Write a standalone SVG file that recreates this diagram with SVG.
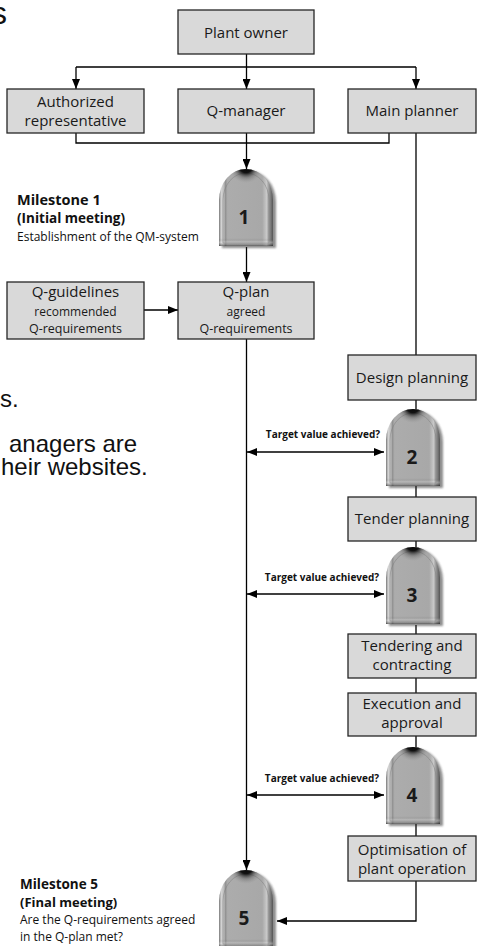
<svg xmlns="http://www.w3.org/2000/svg" xmlns:xlink="http://www.w3.org/1999/xlink" width="478" height="946" viewBox="0 0 478 946">
<style>
.box{fill:#d9d9d9;stroke:#262626;stroke-width:1.3}
.bt{font-family:"Open Sans","Liberation Sans",sans-serif;font-size:15px;fill:#1a1a1a;text-anchor:middle}
.bs{font-family:"Open Sans","Liberation Sans",sans-serif;font-size:12px;fill:#1a1a1a;text-anchor:middle}
.bm{font-family:"Open Sans","Liberation Sans",sans-serif;font-size:12.5px;fill:#1a1a1a;text-anchor:middle}
.ln{fill:none;stroke:#000;stroke-width:1.3}
.tv{font-family:"Open Sans","Liberation Sans",sans-serif;font-size:10px;font-weight:bold;fill:#111;text-anchor:end}
.mh{font-family:"Open Sans","Liberation Sans",sans-serif;font-weight:bold;fill:#111}
.md{font-family:"Open Sans","Liberation Sans",sans-serif;fill:#111}
.num{font-family:"Open Sans","Liberation Sans",sans-serif;font-size:19px;font-weight:bold;fill:#1a1a1a;text-anchor:middle}
.bg{font-family:"Liberation Sans",Arial,sans-serif;fill:#111}
.sh{fill:#333;opacity:0.55}
.bev{fill:none;stroke:#7a7a7a;stroke-width:0.8;stroke-opacity:0.6}
</style>
<defs>
<marker id="ah" viewBox="0 0 10 8" refX="10" refY="4" markerWidth="10" markerHeight="8" markerUnits="userSpaceOnUse" orient="auto-start-reverse">
<path d="M0,0 L10,4 L0,8 Z" fill="#000"/>
</marker>
<path id="ms" d="M-27,31 A27,31 0 0 1 27,31 V77 H-27 Z"/>
<path id="msIn" d="M-23,31 A23,27 0 0 1 23,31 V74 H-23 Z"/>
<linearGradient id="msBody" x1="0" y1="0" x2="1" y2="0">
<stop offset="0" stop-color="#767676"/>
<stop offset="0.04" stop-color="#d6d6d6"/>
<stop offset="0.09" stop-color="#bcbcbc"/>
<stop offset="0.12" stop-color="#939393"/>
<stop offset="0.16" stop-color="#acacac"/>
<stop offset="0.8" stop-color="#a8a8a8"/>
<stop offset="0.88" stop-color="#c8c8c8"/>
<stop offset="0.94" stop-color="#8a8a8a"/>
<stop offset="1" stop-color="#555"/>
</linearGradient>
<linearGradient id="msBot" x1="0" y1="0" x2="0" y2="1">
<stop offset="0.9" stop-color="#000" stop-opacity="0"/>
<stop offset="0.95" stop-color="#fff" stop-opacity="0.25"/>
<stop offset="1" stop-color="#000" stop-opacity="0.45"/>
</linearGradient>
<radialGradient id="msTop" gradientUnits="userSpaceOnUse" cx="0" cy="-3" r="17">
<stop offset="0" stop-color="#000" stop-opacity="1"/>
<stop offset="0.4" stop-color="#0a0a0a" stop-opacity="0.95"/>
<stop offset="0.7" stop-color="#555" stop-opacity="0.4"/>
<stop offset="1" stop-color="#888" stop-opacity="0"/>
</radialGradient>
<filter id="blur" x="-20%" y="-20%" width="140%" height="140%">
<feGaussianBlur stdDeviation="1"/>
</filter>
</defs>
<rect width="478" height="946" fill="#fff"/>

<g id="background-text">
<text class="bg" x="-9" y="24" font-size="32">s</text>
<text class="bg" x="0" y="407" font-size="24">s.</text>
<text class="bg" x="9" y="452" font-size="24">anagers are</text>
<text class="bg" x="1" y="475" font-size="24">heir websites.</text>
</g>

<g id="connectors">
<path class="ln" d="M246.5,54 V67 M76,67 H416"/>
<path class="ln" d="M76,67 V89" marker-end="url(#ah)"/>
<path class="ln" d="M246.5,67 V89" marker-end="url(#ah)"/>
<path class="ln" d="M416,67 V89" marker-end="url(#ah)"/>
<path class="ln" d="M76,133 V143 H389 V133 M246.5,133 V143"/>
<path class="ln" d="M246.5,143 V169" marker-end="url(#ah)"/>
<path class="ln" d="M246.5,247 V282" marker-end="url(#ah)"/>
<path class="ln" d="M144,310 H178" marker-end="url(#ah)"/>
<path class="ln" d="M246.5,339 V870" marker-end="url(#ah)"/>
<path class="ln" d="M416,133 V355"/>
<path class="ln" d="M416,400 V411"/>
<path class="ln" d="M416,486 V497"/>
<path class="ln" d="M416,541 V548"/>
<path class="ln" d="M416,625 V634"/>
<path class="ln" d="M416,678 V693"/>
<path class="ln" d="M416,736 V748"/>
<path class="ln" d="M416,823 V836"/>
<path class="ln" d="M416,881 V921 H277" marker-end="url(#ah)"/>
<path class="ln" d="M247,452 H384" marker-start="url(#ah)" marker-end="url(#ah)"/>
<path class="ln" d="M247,594 H384" marker-start="url(#ah)" marker-end="url(#ah)"/>
<path class="ln" d="M247,795 H384" marker-start="url(#ah)" marker-end="url(#ah)"/>
<text class="tv" x="380" y="438">Target value achieved?</text>
<text class="tv" x="379" y="581">Target value achieved?</text>
<text class="tv" x="379" y="782">Target value achieved?</text>
</g>

<g id="plant-owner">
<rect class="box" x="178" y="10" width="136" height="44"/>
<text class="bt" x="246" y="38">Plant owner</text>
</g>
<g id="authorized-representative">
<rect class="box" x="7" y="89" width="137" height="44"/>
<text class="bt" x="75.5" y="107">Authorized</text>
<text class="bt" x="75.5" y="126">representative</text>
</g>
<g id="q-manager">
<rect class="box" x="178" y="89" width="136" height="44"/>
<text class="bt" x="246" y="116">Q-manager</text>
</g>
<g id="main-planner">
<rect class="box" x="348" y="89" width="128" height="44"/>
<text class="bt" x="412" y="116">Main planner</text>
</g>

<g id="milestone-1">
<use href="#ms" class="sh" transform="translate(249,171)" filter="url(#blur)"/>
<g transform="translate(246,169)">
<use href="#ms" fill="url(#msBody)"/>
<use href="#ms" fill="url(#msBot)"/>
<use href="#msIn" class="bev"/>
<use href="#ms" fill="url(#msTop)"/>
</g>
<text class="num" x="244" y="224">1</text>
<text class="mh" x="17" y="205" font-size="14.5">Milestone 1</text>
<text class="mh" x="17" y="223" font-size="13.5">(Initial meeting)</text>
<text class="md" x="17" y="241" font-size="12">Establishment of the QM-system</text>
</g>

<g id="q-guidelines">
<rect class="box" x="7" y="282" width="137" height="57"/>
<text class="bt" x="75.5" y="297">Q-guidelines</text>
<text class="bs" x="75.5" y="316">recommended</text>
<text class="bm" x="75.5" y="333">Q-requirements</text>
</g>
<g id="q-plan">
<rect class="box" x="178" y="282" width="136" height="57"/>
<text class="bt" x="246" y="297">Q-plan</text>
<text class="bs" x="246" y="316">agreed</text>
<text class="bm" x="246" y="333">Q-requirements</text>
</g>

<g id="design-planning">
<rect class="box" x="348" y="355" width="128" height="45"/>
<text class="bt" x="412" y="383">Design planning</text>
</g>
<g id="milestone-2">
<use href="#ms" class="sh" transform="translate(416,411)" filter="url(#blur)"/>
<g transform="translate(413,409)">
<use href="#ms" fill="url(#msBody)"/>
<use href="#ms" fill="url(#msBot)"/>
<use href="#msIn" class="bev"/>
<use href="#ms" fill="url(#msTop)"/>
</g>
<text class="num" x="412" y="464">2</text>
</g>

<g id="tender-planning">
<rect class="box" x="348" y="497" width="128" height="44"/>
<text class="bt" x="412" y="524">Tender planning</text>
</g>
<g id="milestone-3">
<use href="#ms" class="sh" transform="translate(416,549)" filter="url(#blur)"/>
<g transform="translate(413,547)">
<use href="#ms" fill="url(#msBody)"/>
<use href="#ms" fill="url(#msBot)"/>
<use href="#msIn" class="bev"/>
<use href="#ms" fill="url(#msTop)"/>
</g>
<text class="num" x="412" y="602">3</text>
</g>

<g id="tendering-contracting">
<rect class="box" x="348" y="634" width="128" height="44"/>
<text class="bt" x="412" y="651">Tendering and</text>
<text class="bt" x="412" y="670">contracting</text>
</g>
<g id="execution-approval">
<rect class="box" x="348" y="693" width="128" height="43"/>
<text class="bt" x="412" y="709">Execution and</text>
<text class="bt" x="412" y="728">approval</text>
</g>
<g id="milestone-4">
<use href="#ms" class="sh" transform="translate(416,749)" filter="url(#blur)"/>
<g transform="translate(413,747)">
<use href="#ms" fill="url(#msBody)"/>
<use href="#ms" fill="url(#msBot)"/>
<use href="#msIn" class="bev"/>
<use href="#ms" fill="url(#msTop)"/>
</g>
<text class="num" x="412" y="802">4</text>
</g>

<g id="optimisation">
<rect class="box" x="348" y="836" width="128" height="45"/>
<text class="bt" x="412" y="855">Optimisation of</text>
<text class="bt" x="412" y="874">plant operation</text>
</g>
<g id="milestone-5">
<use href="#ms" class="sh" transform="translate(249,872)" filter="url(#blur)"/>
<g transform="translate(246,870)">
<use href="#ms" fill="url(#msBody)"/>
<use href="#ms" fill="url(#msBot)"/>
<use href="#msIn" class="bev"/>
<use href="#ms" fill="url(#msTop)"/>
</g>
<text class="num" x="244" y="925">5</text>
<text class="mh" x="20" y="889" font-size="13.5">Milestone 5</text>
<text class="mh" x="20" y="907" font-size="13">(Final meeting)</text>
<text class="md" x="20" y="924" font-size="12">Are the Q-requirements agreed</text>
<text class="md" x="20" y="941" font-size="12">in the Q-plan met?</text>
</g>
</svg>
